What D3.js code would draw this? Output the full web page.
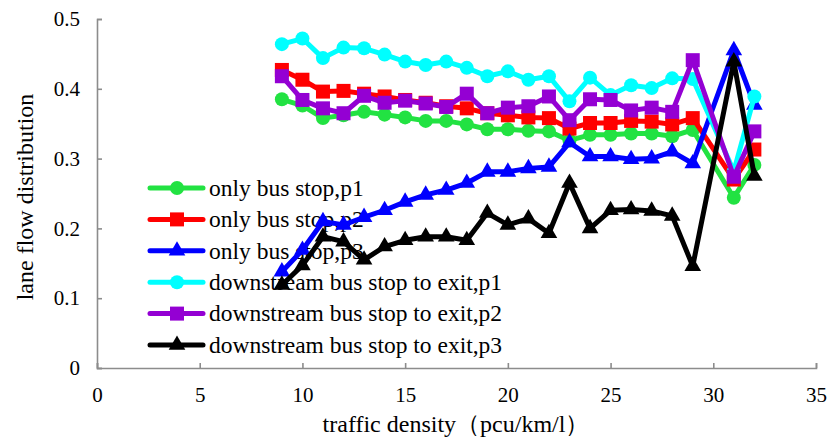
<!DOCTYPE html>
<html>
<head>
  <meta charset="UTF-8">
  <title>Lane flow distribution</title>
  <style>
    body { margin: 0; background: #fff; }
    .axis path, .axis line { stroke: #8c8c8c; stroke-width: 1.6; }
  </style>
</head>
<body>
  <svg></svg>
  <script src="https://d3js.org/d3.v7.min.js"></script>
  <script>
    let width = 831, height = 437;
    const serif = "'Liberation Serif', Tinos, 'Times New Roman', Times, 'Noto Serif', 'DejaVu Serif', FreeSerif, serif";
    // traffic density (x), 30 has no sample
    const density = [9,10,11,12,13,14,15,16,17,18,19,20,21,22,23,24,25,26,27,28,29,31,32];
    const busP1 = [0.385,0.376,0.358,0.362,0.367,0.363,0.359,0.354,0.354,0.349,0.342,0.342,0.340,0.339,0.326,0.334,0.334,0.336,0.336,0.332,0.341,0.244,0.291];
    const busP2 = [0.427,0.413,0.396,0.397,0.393,0.389,0.384,0.380,0.375,0.372,0.365,0.362,0.359,0.358,0.343,0.351,0.351,0.354,0.353,0.349,0.358,0.270,0.313];
    const busP3 = [0.138,0.169,0.210,0.205,0.216,0.226,0.238,0.248,0.255,0.265,0.281,0.281,0.286,0.288,0.323,0.303,0.303,0.299,0.300,0.310,0.293,0.455,0.377];
    const downP1 = [0.464,0.472,0.444,0.459,0.458,0.449,0.439,0.434,0.439,0.430,0.418,0.425,0.413,0.418,0.382,0.416,0.391,0.405,0.401,0.415,0.414,0.282,0.389];
    const downP2 = [0.418,0.384,0.372,0.365,0.390,0.380,0.383,0.379,0.374,0.393,0.365,0.373,0.375,0.389,0.355,0.385,0.384,0.369,0.373,0.367,0.441,0.274,0.339];
    const downP3 = [0.119,0.147,0.188,0.181,0.155,0.174,0.183,0.188,0.188,0.183,0.222,0.205,0.214,0.193,0.265,0.200,0.226,0.227,0.225,0.218,0.146,0.439,0.275];
    const xTicks = [0,5,10,15,20,25,30,35];
    const yTicks = [0,0.1,0.2,0.3,0.4,0.5];

    const series = [
      {name: "only bus stop,p1", values: busP1, color: "#22e242", shape: "circle"},
      {name: "only bus stop,p2", values: busP2, color: "#ff0000", shape: "square"},
      {name: "only bus stop,p3", values: busP3, color: "#0000ff", shape: "triangle"},
      {name: "downstream bus stop to exit,p1", values: downP1, color: "#00ffff", shape: "circle"},
      {name: "downstream bus stop to exit,p2", values: downP2, color: "#9400d3", shape: "square"},
      {name: "downstream bus stop to exit,p3", values: downP3, color: "#000000", shape: "triangle"}
    ];

    let svg = d3.select("svg").attr("width", width).attr("height", height);

    let x = d3.scaleLinear().domain([0, 35]).range([97, 816]);
    let y = d3.scaleLinear().domain([0, 0.5]).range([368, 19]);

    // axes, ticks pointing inward
    let xAxis = svg.append("g").attr("class", "axis")
        .attr("transform", "translate(0,368)")
        .call(d3.axisBottom(x).tickValues(xTicks).tickSizeInner(-5).tickSizeOuter(-5).tickPadding(13));
    let yAxis = svg.append("g").attr("class", "axis")
        .attr("transform", "translate(97,0)")
        .call(d3.axisLeft(y).tickValues(yTicks).tickFormat(d => d === 0 ? "0" : d3.format(".1f")(d)).tickSizeInner(-5).tickSizeOuter(-5).tickPadding(17));
    svg.selectAll(".axis").attr("font-family", serif).attr("font-size", 21);
    svg.selectAll(".axis text").attr("fill", "#000");
    xAxis.selectAll("text").attr("dy", "0.71em").attr("y", 19);

    svg.append("text")
        .attr("x", 456).attr("y", 432)
        .attr("text-anchor", "middle")
        .attr("font-family", serif).attr("font-size", 24)
        .text("traffic density（pcu/km/l）");
    svg.append("text")
        .attr("transform", "translate(33,197) rotate(-90)")
        .attr("text-anchor", "middle")
        .attr("font-family", serif).attr("font-size", 24)
        .text("lane flow distribution");

    function marker(g, shape, color) {
      if (shape === "circle") {
        g.append("circle").attr("r", 7).attr("fill", color);
      } else if (shape === "square") {
        g.append("rect").attr("x", -7).attr("y", -7).attr("width", 14).attr("height", 14).attr("fill", color);
      } else {
        g.append("path").attr("d", d3.symbol(d3.symbolTriangle, 120)()).attr("fill", color);
      }
    }

    // legend (drawn under the lines)
    let legend = svg.append("g").attr("transform", "translate(150,188)");
    series.forEach((s, i) => {
      let row = legend.append("g").attr("transform", `translate(0,${i * 31.4})`);
      row.append("line").attr("x1", 0).attr("x2", 53).attr("y1", 0).attr("y2", 0)
          .attr("stroke", s.color).attr("stroke-width", 5).attr("stroke-linecap", "round");
      marker(row.append("g").attr("transform", "translate(27,0)"), s.shape, s.color);
      row.append("text").attr("x", 59).attr("y", 0).attr("dy", "0.33em")
          .attr("font-family", serif).attr("font-size", 23.5).text(s.name);
    });

    let line = d3.line().x(d => x(d[0])).y(d => y(d[1]));
    series.forEach(s => {
      let pts = density.map((d, i) => [d, s.values[i]]);
      let g = svg.append("g");
      g.append("path").datum(pts).attr("d", line)
          .attr("fill", "none").attr("stroke", s.color).attr("stroke-width", 5)
          .attr("stroke-linejoin", "round");
      pts.forEach(p => marker(g.append("g").attr("transform", `translate(${x(p[0])},${y(p[1])})`), s.shape, s.color));
    });
  </script>
</body>
</html>
